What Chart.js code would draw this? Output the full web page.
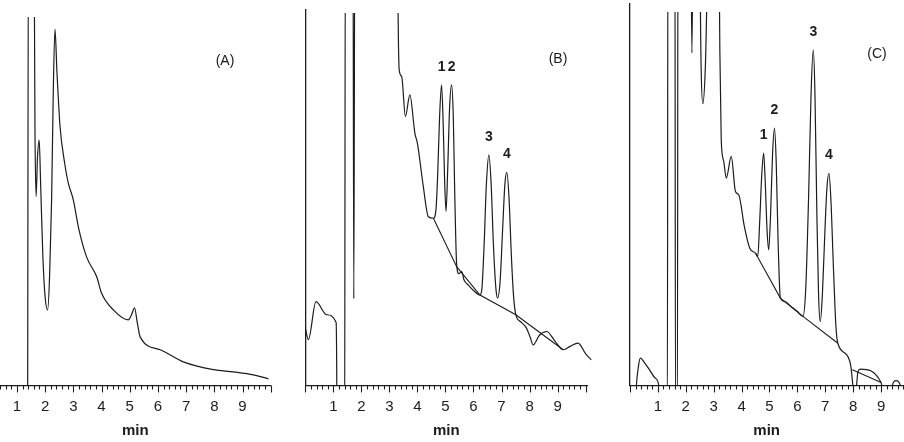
<!DOCTYPE html>
<html>
<head>
<meta charset="utf-8">
<script src="https://cdn.jsdelivr.net/npm/chart.js@4.4.1/dist/chart.umd.min.js"></script>
<style>
  html, body { margin: 0; padding: 0; background: #fff; }
  #wrap { position: relative; width: 904px; height: 442px; overflow: hidden; }
  canvas { position: absolute; top: 0; }
  .tag { position: absolute; font: 14px "Liberation Sans", Arial, sans-serif; color: #1a1a1a;
         transform: translate(-50%, -50%); white-space: nowrap; }
</style>
</head>
<body>
<div id="wrap">
  <canvas id="chartA" width="300" height="442" style="left:0"></canvas>
  <canvas id="chartB" width="300" height="442" style="left:300px"></canvas>
  <canvas id="chartC" width="294" height="442" style="left:610px"></canvas>
  <div class="tag" style="left:225px;top:60px">(A)</div>
  <div class="tag" style="left:558px;top:58px">(B)</div>
  <div class="tag" style="left:877px;top:53px">(C)</div>
</div>
<script>
// retention time (min) and detector signal (arbitrary units, 100 = off-scale)
const tickLabels = [1, 2, 3, 4, 5, 6, 7, 8, 9];

const timeA = [1.38, 1.41, 1.60, 1.64, 1.68, 1.73, 1.79, 1.84, 1.92, 2.00, 2.09, 2.16, 2.23, 2.29, 2.35, 2.42,
  2.53, 2.68, 2.82, 3.00, 3.18, 3.47, 3.83, 4.00, 4.42, 4.95, 5.08, 5.17, 5.27, 5.37, 6.08, 6.90, 7.97, 8.68, 9.39, 9.92];
const signalA = [-10, 130, 130, 70, 51.3, 62, 66.6, 55, 35, 24, 20.5, 30, 50.4, 80, 96.7, 85,
  70.2, 61, 55.0, 50.4, 43.0, 34.9, 29.5, 25.1, 20.5, 17.8, 19.5, 21.1, 17, 13.2, 9.7, 6.4, 4.3, 3.7, 2.9, 1.8];

const timeB = [0.00, 0.11, 0.38, 0.76, 1.10, 1.12, 1.14, 1.40, 1.43, 1.70, 1.73, 1.77, 3.28, 3.31, 3.35, 3.44,
  3.57, 3.73, 3.91, 4.00, 4.21, 4.39, 4.57, 4.66, 4.72, 4.79, 4.86, 4.92, 4.97, 5.02, 5.08, 5.15, 5.22, 5.28,
  5.33, 5.40, 5.48, 5.58, 5.66, 5.81, 6.00, 6.23, 6.30, 6.38, 6.46, 6.55, 6.63, 6.71, 6.80, 6.86, 6.95, 7.04,
  7.12, 7.19, 7.27, 7.35, 7.43, 7.51, 7.70, 7.89, 8.02, 8.13, 8.35, 8.61, 8.90, 9.20, 9.45, 9.73, 10.00, 10.20];
const signalB = [15.4, 12.3, 22.5, 19.0, 16.9, 5, -30, -30, 130, 130, 23.3, 130, 130, 100, 84.7, 82.9,
  72.2, 78.0, 67.7, 65.0, 53.4, 45.3, 44.9, 47.1, 56, 72, 80.7, 70, 55, 46.7, 58, 75, 80.7, 72,
  52, 32.4, 30, 30.6, 28.4, 27.0, 25.5, 24.3, 26, 38, 54, 61.9, 54, 38, 26, 23.5, 28, 42,
  54, 57.2, 50, 35, 24, 19.0, 17.0, 15.4, 13, 10.9, 13.5, 14.5, 12, 9.6, 10.5, 11.4, 8.5, 6.9];
const baseTimeB = [4.57, 5.40, 6.23, 7.51, 9.20];
const baseSignalB = [44.9, 31.9, 24.3, 19.0, 9.6];
const peakTimesB = [4.86, 5.22, 6.55, 7.19];

const timeC = [0.20, 0.23, 0.30, 0.37, 0.55, 0.70, 0.90, 1.03, 1.06, 1.34, 1.36, 1.61, 1.63, 1.70, 1.72, 2.17,
  2.22, 2.27, 2.47, 2.55, 2.61, 2.70, 2.85, 3.17, 3.22, 3.27, 3.36, 3.45, 3.63, 3.78, 3.90, 4.10, 4.29, 4.50,
  4.58, 4.65, 4.72, 4.79, 4.85, 4.91, 4.97, 5.04, 5.11, 5.18, 5.24, 5.31, 5.39, 5.54, 5.78, 6.00, 6.20, 6.30,
  6.40, 6.49, 6.57, 6.63, 6.70, 6.76, 6.82, 6.90, 6.99, 7.06, 7.13, 7.20, 7.29, 7.38, 7.45, 7.77, 7.92, 7.99,
  8.05, 8.12, 8.17, 8.26, 9.00, 9.10, 9.36, 9.40, 9.54, 9.69, 9.75];
const signalC = [-5, 0, 5, 7.3, 5.8, 4.2, 2, 0, -5, -5, 130, 130, -5, -5, 130, 130,
  89.0, 130, 130, 85, 75.4, 85, 130, 130, 90, 65.7, 60, 55.5, 61.3, 51.9, 51.0, 42.5, 36.8, 35.4,
  34.5, 44, 56, 62.2, 54, 42, 36.3, 46, 62, 68.9, 60, 38, 23.4, 22.5, 21.1, 19.8, 18.5, 26,
  50, 78, 89.8, 78, 45, 24, 17.1, 25, 42, 53, 56.8, 50, 32, 16, 11.3, 8.2, 5, 0,
  -3, 0, 3.7, 4.4, 0.8, -3, -3, 0, 1.3, 0, -3];
const baseTimeC = [4.50, 5.39, 6.20, 7.45, 7.70, 7.97, 9.00];
const baseSignalC = [35.4, 23.4, 18.5, 11.3, null, 4.2, 0.8];
const peakTimesC = [4.79, 5.18, 6.57, 7.13];

const peakNames = ['1', '2', '3', '4'];

const INK = '#1c1c1c';
const FONT = '"Liberation Sans", Arial, sans-serif';

const toPoints = (xs, ys) => xs.map((x, i) => ({ x: x, y: ys[i] }));

// tick marks: short every 0.2 min, longer on whole minutes
const tickMarks = {
    id: 'tickMarks',
    afterDraw(chart) {
        const sx = chart.scales.x;
        const ctx = chart.ctx;
        const y0 = chart.chartArea.bottom;
        ctx.save();
        ctx.strokeStyle = INK;
        ctx.lineWidth = 1.1;
        sx.ticks.forEach(t => {
            const major = Math.abs(t.value - Math.round(t.value)) < 1e-6;
            const px = Math.round(sx.getPixelForValue(t.value)) + 0.5;
            ctx.beginPath();
            ctx.moveTo(px, y0);
            ctx.lineTo(px, y0 + (major ? 7 : 4));
            ctx.stroke();
        });
        ctx.restore();
    }
};

const makePanel = (id, cfg) => {
    const datasets = [{
        data: toPoints(cfg.time, cfg.signal),
        borderColor: INK,
        borderWidth: 1.2,
        pointRadius: 0,
        cubicInterpolationMode: 'monotone',
        clip: { left: 0, top: -cfg.clipTop, right: 6, bottom: 0 }
    }];
    if (cfg.baseTime) {
        datasets.push({
            data: toPoints(cfg.baseTime, cfg.baseSignal),
            borderColor: INK,
            borderWidth: 1.1,
            pointRadius: 0,
            tension: 0,
            spanGaps: false
        });
    }

    // peak numbers above each apex
    const peakLabels = {
        id: 'peakLabels',
        afterDatasetsDraw(chart) {
            if (!cfg.peaks) return;
            const ctx = chart.ctx;
            ctx.save();
            ctx.fillStyle = INK;
            ctx.font = 'bold 14px ' + FONT;
            ctx.textAlign = 'center';
            ctx.textBaseline = 'middle';
            cfg.peaks.forEach((t, i) => {
                const h = cfg.signal[cfg.time.indexOf(t)];
                const px = chart.scales.x.getPixelForValue(t);
                const py = chart.scales.y.getPixelForValue(h) - 18;
                ctx.fillText(peakNames[i], px, py);
            });
            ctx.restore();
        }
    };

    return new Chart(document.getElementById(id), {
        type: 'line',
        data: { datasets: datasets },
        options: {
            responsive: false,
            animation: false,
            events: [],
            layout: { padding: cfg.padding },
            plugins: {
                legend: { display: false },
                tooltip: { enabled: false }
            },
            scales: {
                x: {
                    type: 'linear',
                    min: cfg.xMin,
                    max: cfg.xMax,
                    ticks: {
                        stepSize: 0.2,
                        autoSkip: false,
                        includeBounds: false,
                        maxRotation: 0,
                        padding: 0,
                        color: INK,
                        font: { family: FONT, size: 15 },
                        callback: v => {
                            const r = Math.round(v);
                            return (Math.abs(v - r) < 1e-6 && tickLabels.includes(r)) ? String(r) : '';
                        }
                    },
                    // the library's own tick marks only reserve room; tickMarks draws them
                    grid: { drawOnChartArea: false, drawTicks: true, tickLength: 12, tickColor: 'rgba(0,0,0,0)' },
                    border: { display: true, color: INK, width: 1.3 },
                    title: {
                        display: true,
                        text: 'min',
                        color: INK,
                        font: { family: FONT, size: 15, weight: 'bold' },
                        padding: { top: 6.5, bottom: 0 }
                    }
                },
                y: {
                    type: 'linear',
                    min: 0,
                    max: cfg.yMax,
                    display: cfg.yAxis,
                    ticks: { display: false },
                    grid: { display: false, drawTicks: false },
                    border: { display: cfg.yAxis, color: INK, width: 1.3 }
                }
            }
        },
        plugins: [tickMarks, peakLabels]
    });
};

makePanel('chartA', {
    time: timeA, signal: signalA,
    xMin: 0.4, xMax: 10, yMax: 100, clipTop: 0, yAxis: false,
    padding: { left: 0, right: 29.3, top: 17, bottom: 2 }
});

makePanel('chartB', {
    time: timeB, signal: signalB, baseTime: baseTimeB, baseSignal: baseSignalB, peaks: peakTimesB,
    xMin: 0, xMax: 10.06, yMax: 100.8, clipTop: 3, yAxis: true,
    padding: { left: 5.3, right: 12.7, top: 10, bottom: 2 }
});

makePanel('chartC', {
    time: timeC, signal: signalC, baseTime: baseTimeC, baseSignal: baseSignalC, peaks: peakTimesC,
    xMin: 0, xMax: 9.8, yMax: 102.1, clipTop: 8, yAxis: true,
    padding: { left: 20, right: 0.6, top: 4, bottom: 2 }
});
</script>
</body>
</html>
